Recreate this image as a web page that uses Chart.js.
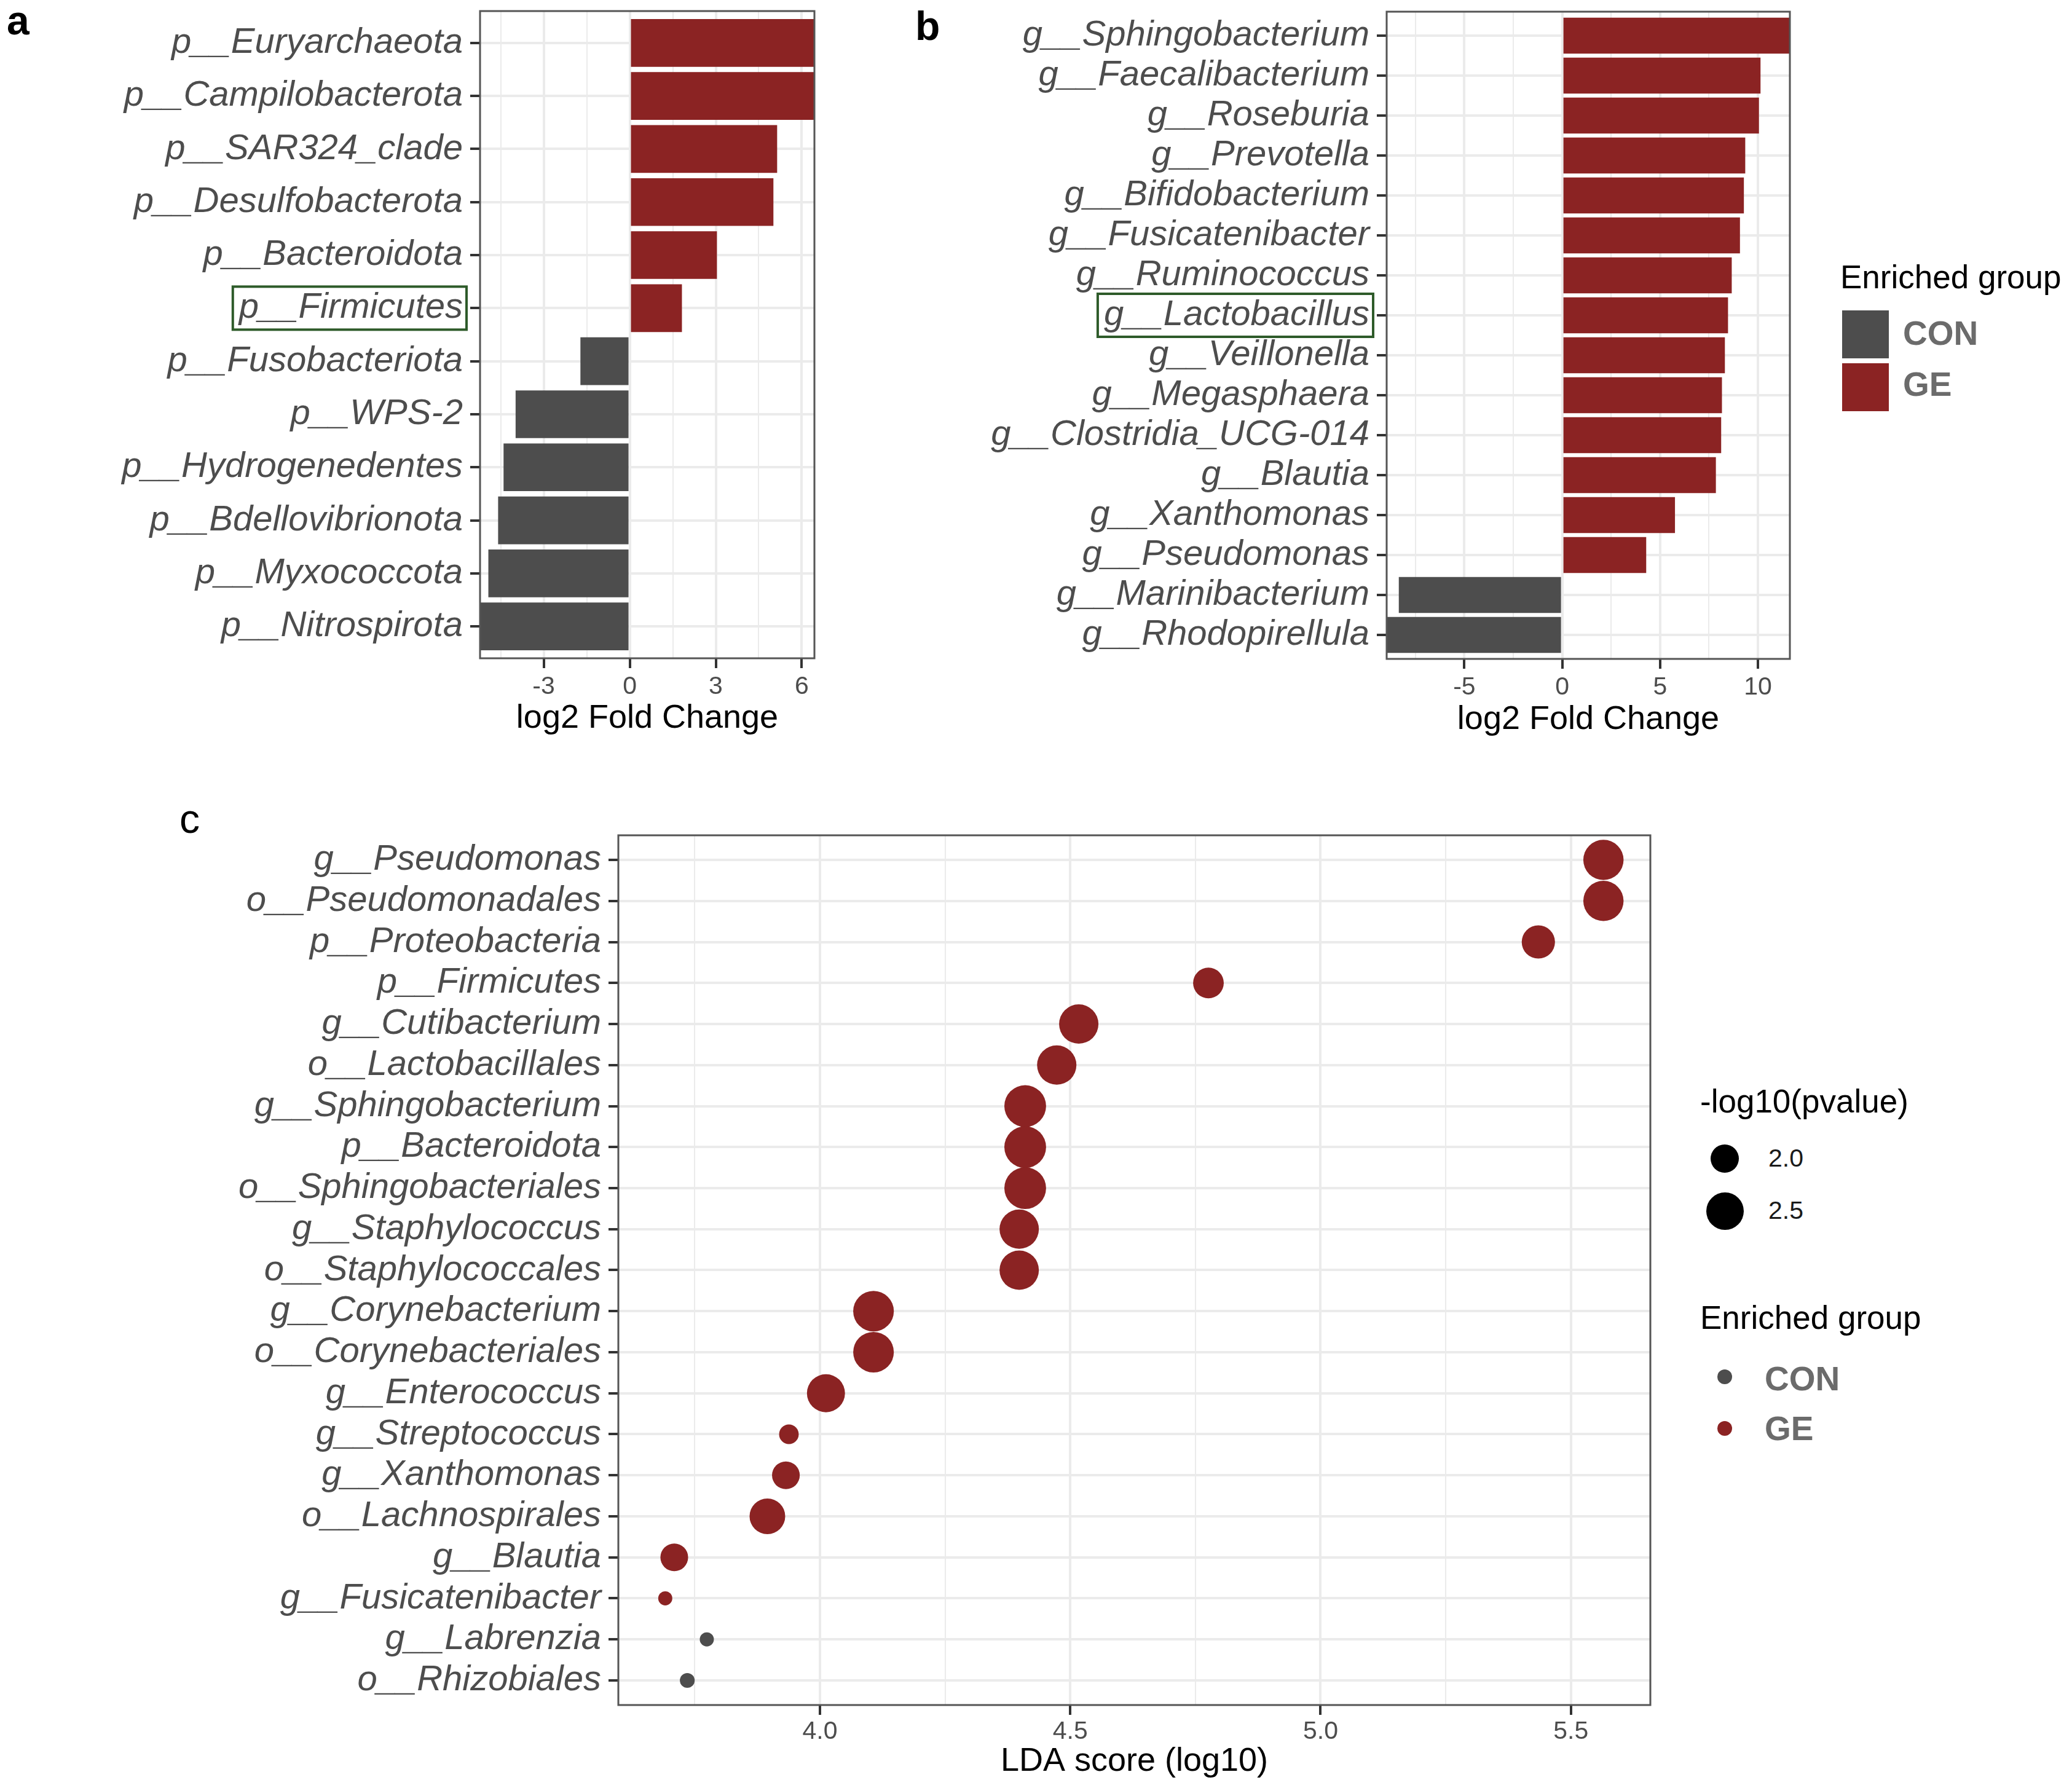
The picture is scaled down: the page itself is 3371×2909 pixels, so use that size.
<!DOCTYPE html>
<html><head><meta charset="utf-8">
<script src="https://cdn.jsdelivr.net/npm/chart.js@4.4.1/dist/chart.umd.min.js"></script>
<style>
html,body{margin:0;padding:0;background:#fff;}
body{width:3371px;height:2909px;position:relative;overflow:hidden;font-family:"Liberation Sans",Arial,sans-serif;}
.t{position:absolute;white-space:nowrap;line-height:1;}
canvas{position:absolute;}
.sw{position:absolute;}
</style></head><body>
<canvas id="ca" style="left:0px;top:0px" width="1400" height="1230"></canvas>
<canvas id="cb" style="left:1450px;top:0px" width="1500" height="1230"></canvas>
<canvas id="cc" style="left:0px;top:1290px" width="2720" height="1619"></canvas>

<div class="t" style="left:11px;top:0px;font-size:66px;font-weight:bold;">a</div>
<div class="t" style="left:1489px;top:9px;font-size:66px;font-weight:bold;">b</div>
<div class="t" style="left:292px;top:1299px;font-size:66px;">c</div>

<div class="t" style="left:2994px;top:424px;font-size:53px;color:#000;">Enriched group</div>
<div class="sw" id="swCon" style="left:2997px;top:505px;width:76px;height:78px;"></div>
<div class="sw" id="swGe" style="left:2997px;top:591px;width:76px;height:78px;"></div>
<div class="t" style="left:3096px;top:515px;font-size:55px;font-weight:bold;color:#6B6B6B;">CON</div>
<div class="t" style="left:3096px;top:598px;font-size:55px;font-weight:bold;color:#6B6B6B;">GE</div>

<div class="t" style="left:2766px;top:1765px;font-size:53px;color:#000;">-log10(pvalue)</div>
<div id="legSize"></div>
<div class="t" style="left:2766px;top:2117px;font-size:53px;color:#000;">Enriched group</div>
<div class="sw" id="dotCon"></div>
<div class="sw" id="dotGe"></div>
<div class="t" style="left:2871px;top:2216px;font-size:55px;font-weight:bold;color:#6B6B6B;">CON</div>
<div class="t" style="left:2871px;top:2297px;font-size:55px;font-weight:bold;color:#6B6B6B;">GE</div>

<script>
// ---------------- data ----------------
const phylumLabels = ['p__Euryarchaeota','p__Campilobacterota','p__SAR324_clade','p__Desulfobacterota','p__Bacteroidota','p__Firmicutes','p__Fusobacteriota','p__WPS-2','p__Hydrogenedentes','p__Bdellovibrionota','p__Myxococcota','p__Nitrospirota'];
const phylumLFC = [6.44, 6.43, 5.14, 5.01, 3.04, 1.82, -1.72, -3.98, -4.40, -4.59, -4.93, -5.22];
const phylumGroup = ['GE','GE','GE','GE','GE','GE','CON','CON','CON','CON','CON','CON'];
const phylumTickValues = [-3, 0, 3, 6];
const phylumTickLabels = ['-3', '0', '3', '6'];
const phylumMinorTicks = [-4.5, -1.5, 1.5, 4.5];

const genusLabels = ['g__Sphingobacterium','g__Faecalibacterium','g__Roseburia','g__Prevotella','g__Bifidobacterium','g__Fusicatenibacter','g__Ruminococcus','g__Lactobacillus','g__Veillonella','g__Megasphaera','g__Clostridia_UCG-014','g__Blautia','g__Xanthomonas','g__Pseudomonas','g__Marinibacterium','g__Rhodopirellula'];
const genusLFC = [11.63, 10.13, 10.05, 9.35, 9.28, 9.08, 8.66, 8.47, 8.31, 8.16, 8.12, 7.85, 5.76, 4.29, -8.35, -8.97];
const genusGroup = ['GE','GE','GE','GE','GE','GE','GE','GE','GE','GE','GE','GE','GE','GE','CON','CON'];
const genusTickValues = [-5, 0, 5, 10];
const genusTickLabels = ['-5', '0', '5', '10'];
const genusMinorTicks = [-7.5, -2.5, 2.5, 7.5];

const ldaLabels = ['g__Pseudomonas','o__Pseudomonadales','p__Proteobacteria','p__Firmicutes','g__Cutibacterium','o__Lactobacillales','g__Sphingobacterium','p__Bacteroidota','o__Sphingobacteriales','g__Staphylococcus','o__Staphylococcales','g__Corynebacterium','o__Corynebacteriales','g__Enterococcus','g__Streptococcus','g__Xanthomonas','o__Lachnospirales','g__Blautia','g__Fusicatenibacter','g__Labrenzia','o__Rhizobiales'];
const ldaScore = [5.565, 5.565, 5.435, 4.776, 4.517, 4.473, 4.410, 4.410, 4.410, 4.398, 4.398, 4.107, 4.107, 4.012, 3.938, 3.932, 3.895, 3.709, 3.691, 3.774, 3.735];
const ldaNegLogP = [2.65, 2.65, 2.27, 2.13, 2.60, 2.60, 2.73, 2.73, 2.73, 2.60, 2.60, 2.67, 2.67, 2.53, 1.53, 1.97, 2.40, 1.97, 1.23, 1.23, 1.27];
const ldaGroup = ['GE','GE','GE','GE','GE','GE','GE','GE','GE','GE','GE','GE','GE','GE','GE','GE','GE','GE','GE','CON','CON'];
const ldaTickValues = [4.0, 4.5, 5.0, 5.5];
const ldaTickLabels = ['4.0', '4.5', '5.0', '5.5'];
const ldaMinorTicks = [3.75, 4.25, 4.75, 5.25];
const sizeLegendValues = [2.0, 2.5];
const sizeLegendLabels = ['2.0', '2.5'];

// ---------------- styles ----------------
const COLORS = {GE:'#8B2323', CON:'#4D4D4D'};
const GRID = '#EBEBEB', AXIS = '#333333', TXT = '#4D4D4D';
const FAM = '"Liberation Sans", Arial, Helvetica, sans-serif';
const TICK_LEN = 16, YPAD = 12;
const radiusFor = v => 23 + (v - 2) * 15;

const frame = {id:'frame', afterDraw(chart){
  const {ctx, chartArea:a} = chart;
  ctx.save(); ctx.strokeStyle = '#555'; ctx.lineWidth = 3;
  ctx.strokeRect(a.left, a.top, a.right - a.left, a.bottom - a.top);
  ctx.restore();
}};
const highlight = {id:'highlight', afterDraw(chart, args, opts){
  if (opts.index == null) return;
  const {ctx, chartArea:a} = chart;
  const ys = chart.scales.y;
  const y = ys.getPixelForValue(opts.index);
  const xr = a.left - TICK_LEN - YPAD;
  ctx.save();
  ctx.font = 'italic 58px ' + FAM;
  const w = ctx.measureText(opts.label).width;
  ctx.strokeStyle = '#2E5B2A'; ctx.lineWidth = 4;
  ctx.strokeRect(xr - w - 10, y - 35, w + 16, 70);
  ctx.restore();
}};

function catAxis(labels, width){
  return {
    type:'linear', reverse:true, min:-0.6, max:labels.length - 0.4, offset:false,
    afterBuildTicks: s => { s.ticks = labels.map((_, i) => ({value:i})); },
    afterFit: s => { s.width = width; s.paddingTop = 0; s.paddingBottom = 0; },
    ticks:{callback: v => labels[v] ?? '', color:TXT, font:{family:FAM, size:58, style:'italic'}, padding:YPAD, autoSkip:false},
    grid:{offset:false, color:GRID, lineWidth:4, tickLength:TICK_LEN, tickColor:AXIS, tickWidth:4, drawTicks:true},
    border:{display:false}
  };
}
function valAxis(min, max, major, majorLabels, minor, title, height, titlePad, tickPad){
  const all = major.concat(minor).sort((a, b) => a - b);
  const majIdx = v => major.findIndex(m => Math.abs(m - v) < 1e-9);
  return {
    type:'linear', min, max, offset:false,
    afterBuildTicks: s => { s.ticks = all.map(v => ({value:v})); },
    afterFit: s => { s.height = height; s.paddingLeft = 0; s.paddingRight = 0; },
    ticks:{callback: v => { const k = majIdx(v); return k >= 0 ? majorLabels[k] : ''; },
      color:TXT, font:{family:FAM, size:41}, padding:tickPad, autoSkip:false, maxRotation:0, minRotation:0},
    grid:{offset:false, color:GRID, lineWidth: c => (c.tick && majIdx(c.tick.value) >= 0) ? 4 : 2, tickLength:TICK_LEN,
      tickColor: c => (c.tick && majIdx(c.tick.value) >= 0) ? AXIS : 'rgba(0,0,0,0)', tickWidth:4, drawTicks:true},
    border:{display:false},
    title:{display:true, text:title, color:'#000', font:{family:FAM, size:54}, padding:{top:0, bottom:titlePad}}
  };
}

function barChart(id, labels, values, groups, major, majorLabels, minor, yWidth, pad, xHeight, titlePad, hl){
  new Chart(document.getElementById(id), {
    type:'bar',
    data:{datasets:[{
      data: values.map((v, i) => ({x:v, y:i})),
      backgroundColor: groups.map(g => COLORS[g]),
      borderWidth:0, barPercentage:0.9, categoryPercentage:1.0
    }]},
    options:{
      indexAxis:'y', responsive:false, animation:false, devicePixelRatio:1,
      layout:{padding:pad},
      scales:{
        x: valAxis(Math.min(...values), Math.max(...values), major, majorLabels, minor, 'log2 Fold Change', xHeight, titlePad, 6),
        y: catAxis(labels, yWidth)
      },
      plugins:{legend:{display:false}, tooltip:{enabled:false}, highlight:hl}
    },
    plugins:[frame, highlight]
  });
}

barChart('ca', phylumLabels, phylumLFC, phylumGroup, phylumTickValues, phylumTickLabels, phylumMinorTicks,
  781, {left:0, right:75, top:18, bottom:0}, 159, 28, {index:5, label:'p__Firmicutes'});
barChart('cb', genusLabels, genusLFC, genusGroup, genusTickValues, genusTickLabels, genusMinorTicks,
  806, {left:0, right:38, top:19, bottom:0}, 158, 26, {index:7, label:'g__Lactobacillus'});

// panel c
const ldaMin = Math.min(...ldaScore), ldaMax = Math.max(...ldaScore), ldaSpan = ldaMax - ldaMin;
new Chart(document.getElementById('cc'), {
  type:'scatter',
  data:{datasets:[{
    data: ldaScore.map((v, i) => ({x:v, y:i})),
    pointBackgroundColor: ldaGroup.map(g => COLORS[g]),
    pointBorderWidth:0, pointBorderColor:'rgba(0,0,0,0)',
    pointRadius: ldaNegLogP.map(radiusFor), pointHoverRadius: ldaNegLogP.map(radiusFor)
  }]},
  options:{
    responsive:false, animation:false, devicePixelRatio:1,
    layout:{padding:{left:0, right:35, top:69, bottom:0}},
    scales:{
      x: valAxis(ldaMin - 0.05 * ldaSpan, ldaMax + 0.05 * ldaSpan, ldaTickValues, ldaTickLabels, ldaMinorTicks, 'LDA score (log10)', 135, 10, 3),
      y: catAxis(ldaLabels, 1006)
    },
    plugins:{legend:{display:false}, tooltip:{enabled:false}}
  },
  plugins:[frame]
});

// legends
document.getElementById('swCon').style.background = COLORS.CON;
document.getElementById('swGe').style.background = COLORS.GE;
const ls = document.getElementById('legSize');
const sizeCenters = [1885, 1970];
sizeLegendValues.forEach((v, i) => {
  const r = radiusFor(v);
  const d = document.createElement('div');
  d.className = 'sw';
  d.style.cssText = `left:${2806 - r}px;top:${sizeCenters[i] - r}px;width:${2*r}px;height:${2*r}px;border-radius:50%;background:#000;`;
  ls.appendChild(d);
  const t = document.createElement('div');
  t.className = 't';
  t.style.cssText = `left:2877px;top:${sizeCenters[i] - 21}px;font-size:41px;color:#1a1a1a;`;
  t.textContent = sizeLegendLabels[i];
  ls.appendChild(t);
});
[['dotCon', COLORS.CON, 2240], ['dotGe', COLORS.GE, 2324]].forEach(([id, c, cy]) => {
  const d = document.getElementById(id);
  d.style.cssText = `left:${2806 - 12}px;top:${cy - 12}px;width:24px;height:24px;border-radius:50%;background:${c};`;
});
</script>
</body></html>
